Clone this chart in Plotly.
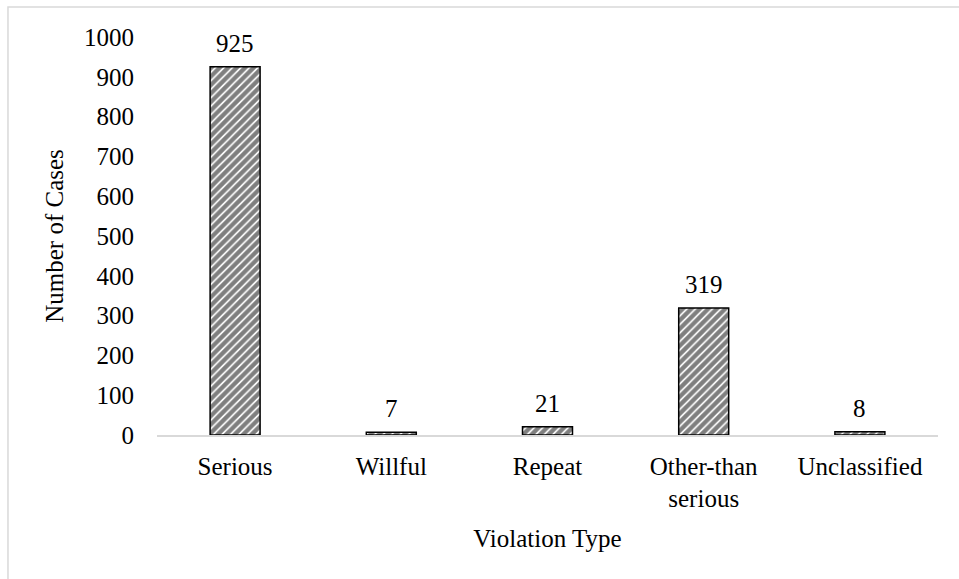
import plotly.graph_objects as go

categories = ["Serious", "Willful", "Repeat", "Other-than<br>serious", "Unclassified"]
cases = [925, 7, 21, 319, 8]
y_ticks = [0, 100, 200, 300, 400, 500, 600, 700, 800, 900, 1000]

FONT = "Liberation Serif, Times New Roman, serif"
FS = 25

fig = go.Figure(
    go.Bar(
        x=categories,
        y=cases,
        width=0.32,
        marker=dict(
            color="#ffffff",
            line=dict(color="#000000", width=1.5),
            pattern=dict(shape="/", fgcolor="#000000", bgcolor="#ffffff",
                         size=6, solidity=0.72, fillmode="overlay"),
        ),
    )
)

# value labels above each bar
annotations = [
    dict(x=c, y=v, xref="x", yref="y", text=str(v), showarrow=False,
         yanchor="bottom", yshift=8, font=dict(family=FONT, size=FS, color="#000000"))
    for c, v in zip(categories, cases)
]

fig.update_layout(
    width=959,
    height=579,
    margin=dict(l=157, r=21, t=37, b=144),
    paper_bgcolor="#ffffff",
    plot_bgcolor="#ffffff",
    font=dict(family=FONT, size=FS, color="#000000"),
    showlegend=False,
    annotations=annotations,
    xaxis=dict(
        showline=True,
        linecolor="#d9d9d9",
        linewidth=1.5,
        showgrid=False,
        ticks="",
        ticklabelstandoff=8,
        tickfont=dict(family=FONT, size=FS),
        title=dict(text="Violation Type", font=dict(family=FONT, size=FS), standoff=18),
    ),
    yaxis=dict(
        range=[0, 1000],
        tickvals=y_ticks,
        showline=False,
        showgrid=False,
        zeroline=False,
        ticks="",
        ticklabelstandoff=22,
        tickfont=dict(family=FONT, size=FS),
        title=dict(text="Number of Cases", font=dict(family=FONT, size=FS), standoff=13),
    ),
    shapes=[
        dict(
            type="rect", xref="paper", yref="paper",
            x0=-0.1908, x1=1.041, y0=-0.389, y1=1.0754,
            line=dict(color="#d9d9d9", width=1.5),
            fillcolor="rgba(0,0,0,0)", layer="below",
        )
    ],
)

fig.write_html("out.html")
